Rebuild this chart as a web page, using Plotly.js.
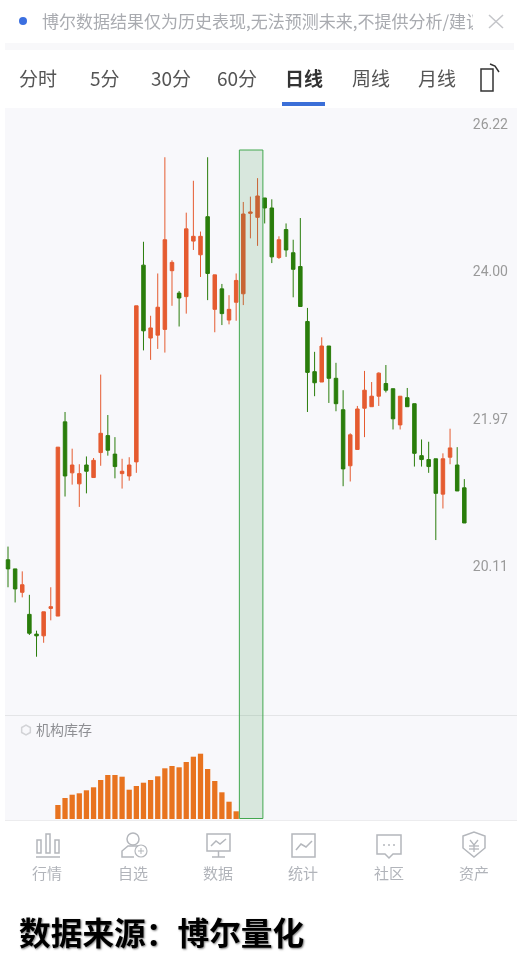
<!DOCTYPE html>
<html><head><meta charset="utf-8">
<script src="https://cdn.plot.ly/plotly-3.0.1.min.js"></script>
<style>html,body{margin:0;padding:0;background:#fff}#c{width:526px;height:964px;filter:blur(0.4px)}</style>
</head><body><div id="c"></div>
<script>
const open_ = [20.17,20.06,19.78,19.52,19.29,19.27,19.59,19.50,21.91,21.25,21.11,21.35,21.19,21.51,21.73,21.49,21.24,21.21,21.39,24.07,23.04,23.08,23.16,23.99,23.67,23.62,24.42,24.22,24.78,23.44,23.73,23.29,23.54,23.66,24.83,24.77,25.06,24.91,24.18,24.59,24.25,24.05,23.27,22.58,22.44,22.93,22.49,22.07,21.34,21.55,22.09,22.11,22.25,22.42,22.35,21.87,22.23,22.15,21.47,21.42,21.43,20.98,21.45,21.35,21.06];
const high_ = [20.33,20.06,20.03,19.75,19.33,19.55,19.84,21.58,22.04,21.56,21.36,21.46,21.44,22.54,22.00,21.71,21.43,21.45,23.49,24.41,23.35,23.95,25.68,24.14,23.70,24.84,25.32,24.56,25.68,23.93,23.80,23.64,23.95,25.00,25.08,25.36,25.06,25.04,24.49,24.68,24.44,24.76,23.46,22.85,23.05,22.93,22.70,22.33,21.76,22.12,22.59,22.44,22.57,22.67,22.35,22.25,22.36,22.15,21.68,21.65,21.43,21.50,21.82,21.58,21.17];
const low_ = [19.84,19.66,19.72,19.28,19.03,19.19,19.45,19.50,20.95,21.10,20.82,20.99,21.19,21.34,21.47,21.18,21.05,21.15,21.25,22.87,22.74,22.89,22.84,23.49,23.20,23.38,24.29,23.90,23.57,23.12,23.22,23.23,23.28,23.50,24.46,24.35,24.68,24.10,24.16,24.19,23.61,23.48,22.04,22.25,22.44,22.16,22.05,21.08,21.14,21.55,21.71,22.11,22.12,22.30,21.81,21.81,22.11,21.33,21.33,21.25,20.41,20.80,21.36,21.02,20.62];
const close_ = [20.06,19.82,19.87,19.30,19.27,19.55,19.61,21.58,21.21,21.35,21.24,21.27,21.41,21.76,21.54,21.33,21.27,21.35,23.49,23.14,23.18,23.47,24.44,24.11,23.60,24.60,24.49,24.49,23.95,23.93,23.38,23.44,23.85,24.82,24.85,25.09,24.91,24.19,24.44,24.29,24.01,23.48,22.57,22.43,22.93,22.49,22.15,21.30,21.74,22.08,22.33,22.25,22.56,22.33,21.95,22.25,22.11,21.50,21.42,21.33,20.99,21.43,21.57,21.02,20.62];
const inventory = [null,null,null,null,null,null,null,14,21,24.3,25.7,28.7,31.7,39,44,44,42.3,29.3,33,36.3,39,42.7,50.7,53,51.7,57,62.3,65.3,50,38,26.7,17.3,7.7];
const priceTickVals = [26.19,23.98,21.95,20.09];
const priceTickText = ['26.22','24.00','21.97','20.11'];
const tabs = ['分时','5分','30分','60分','日线','周线','月线'];
const navLabels = ['行情','自选','数据','统计','社区','资产'];

const W=526,H=964;
const fx=x=>x/W, fy=y=>1-y/H;
const days=open_.map((_,i)=>i);
const shapes=[],annotations=[];
function rect(x0,y0,x1,y1,fill,line,lw,layer){shapes.push({type:'rect',xref:'paper',yref:'paper',x0:fx(x0),x1:fx(x1),y0:fy(y0),y1:fy(y1),fillcolor:fill||'rgba(0,0,0,0)',line:{color:line||'rgba(0,0,0,0)',width:line?(lw||1):0},layer:layer||'below'});}
function circ(cx,cy,r,fill,line,lw){shapes.push({type:'circle',xref:'paper',yref:'paper',x0:fx(cx-r),x1:fx(cx+r),y0:fy(cy-r),y1:fy(cy+r),fillcolor:fill||'rgba(0,0,0,0)',line:{color:line||'rgba(0,0,0,0)',width:line?(lw||1):0},layer:'below'});}
function poly(pts,line,lw,closed,fill){const p=pts.map((q,i)=>(i?'L':'M')+fx(q[0]).toFixed(5)+' '+fy(q[1]).toFixed(5)).join(' ')+(closed?' Z':'');shapes.push({type:'path',xref:'paper',yref:'paper',path:p,fillcolor:fill||'rgba(0,0,0,0)',line:{color:line,width:lw||1},layer:'below'});}
function txt(x,y,t,o){o=o||{};annotations.push(Object.assign({xref:'paper',yref:'paper',x:fx(x),y:fy(y),text:t,showarrow:false,xanchor:o.a||'center',yanchor:'middle',borderpad:0,font:{family:o.fam||'"Noto Sans CJK SC"',size:o.s||14,color:o.c||'#666',weight:o.w||400,shadow:o.sh||'none'}},o.width?{width:o.width,align:'left'}:{}));}

// page furniture
rect(5,43,514,50,'#F8F8FA');
rect(5,108,517,820,'#F8F8FB');
poly([[5,715.5],[517,715.5]],'#E4E5E7',1);
poly([[5,820.5],[517,820.5]],'#ECECEE',1);

// notice bar
circ(23,21,4,'#3B6FE0');
txt(41,20.5,'博尔数据结果仅为历史表现,无法预测未来,不提供分析/建议',{a:'left',s:17,c:'#A9ABB0',width:431});
poly([[489,15],[503,28]],'#C4C5C9',1.5);
poly([[503,15],[489,28]],'#C4C5C9',1.5);

// tabs
const tabX=[38,104.5,170.5,237,304,371,437];
tabs.forEach((t,i)=>txt(tabX[i],77.5,t,{s:19,c:i===4?'#333':'#555',w:i===4?700:400}));
rect(282,102,325,106,'#3B6FD8');
rect(481,69,493,91,null,'#333',1.5);
poly([[490,64],[495,66],[499,72]],'#333',1.5);

// sub-chart caption
const hex=[];[0,1,2,3,4,5].forEach(k=>hex.push([26+5*Math.cos(Math.PI/6+k*Math.PI/3),730+5*Math.sin(Math.PI/6+k*Math.PI/3)]));
poly(hex,'#D2D3D6',1.5,true);
txt(35,729,'机构库存',{a:'left',s:14,c:'#8E8F93'});

// bottom nav
const navX=[47,133,218,303,388.5,474];
navLabels.forEach((t,i)=>txt(navX[i],872,t,{s:15,c:'#B1B4BA'}));
const ic='#B4B7BC';
[[37,41,840],[46,50,834],[55,59,840]].forEach(b=>rect(b[0],b[2],b[1],853,null,ic,1.5));
poly([[36,857],[60,857]],ic,1.5);
circ(133,839,6,null,ic,1.5);
poly([[138,846],[128,846],[122,851],[122,857],[134,857]],ic,1.5);
circ(141,851,6,null,ic,1.2);
poly([[138,851],[144,851]],ic,1);poly([[141,848],[141,854]],ic,1);
rect(207,834,230,851,null,ic,1.5);
poly([[218.5,851],[218.5,857]],ic,1.5);poly([[212,857],[225,857]],ic,1.5);
poly([[211,846],[216,841],[220,844],[226,839]],ic,1.5);
rect(292,834,315,857,null,ic,1.5);
poly([[296,850],[301,844],[306,847],[312,841]],ic,1.5);
poly([[377,835],[401,835],[401,854],[393,854],[389,858],[385,854],[377,854]],ic,1.5,true);
[384,389,394].forEach(x=>circ(x,845,1,ic));
poly([[463,836],[474,832],[485,836],[485,848],[474,857],[463,848]],ic,1.5,true);
poly([[470,840],[474,845],[478,840]],ic,1.3);poly([[474,845],[474,852]],ic,1.3);poly([[469,846],[479,846]],ic,1.3);poly([[469,849],[479,849]],ic,1.3);

// source line
txt(17.5,930.5,'数据来源：博尔量化',{a:'left',s:31.7,c:'#000',w:700,sh:'1px 1px 2px rgba(0,0,0,.5)'});

// highlighted candle range
shapes.push({type:'rect',xref:'x',yref:'paper',x0:32.45,x1:35.75,y0:fy(818.5),y1:fy(150),fillcolor:'rgba(60,150,75,0.17)',line:{color:'#43A84F',width:1},layer:'above'});

const traces=[{
  type:'candlestick',x:days,open:open_,high:high_,low:low_,close:close_,xaxis:'x',yaxis:'y',
  increasing:{line:{color:'#E55B30',width:1},fillcolor:'#E55B30'},
  decreasing:{line:{color:'#2A7D0B',width:1},fillcolor:'#2A7D0B'},
  whiskerwidth:0,hoverinfo:'skip',showlegend:false
},{
  type:'bar',x:days.slice(0,inventory.length),y:inventory,xaxis:'x',yaxis:'y2',width:0.74,
  marker:{color:'#E8731F',line:{width:0}},hoverinfo:'skip',showlegend:false
}];

const spacing=7.13, firstX=8;
const layout={
  width:W,height:H,margin:{l:0,r:0,t:0,b:0},paper_bgcolor:'#fff',plot_bgcolor:'rgba(0,0,0,0)',showlegend:false,
  xaxis:{domain:[5/W,517/W],range:[(5-firstX)/spacing,(517-firstX)/spacing],visible:false,fixedrange:true,rangeslider:{visible:false},anchor:'y'},
  yaxis:{domain:[fy(716),fy(108)],type:'log',range:[1.263994,1.422425],side:'right',anchor:'x',showgrid:false,zeroline:false,showline:false,
    tickmode:'array',tickvals:priceTickVals,ticktext:priceTickText,ticklabelposition:'inside',ticks:'',ticklabelstandoff:6,
    tickfont:{family:'Roboto',size:14,color:'#9A9A9A'},fixedrange:true},
  yaxis2:{domain:[fy(819),fy(716)],range:[0,103],visible:false,anchor:'x',fixedrange:true},
  shapes:shapes,annotations:annotations,bargap:0.25
};
Plotly.newPlot('c',traces,layout,{displayModeBar:false,staticPlot:true});
</script></body></html>
